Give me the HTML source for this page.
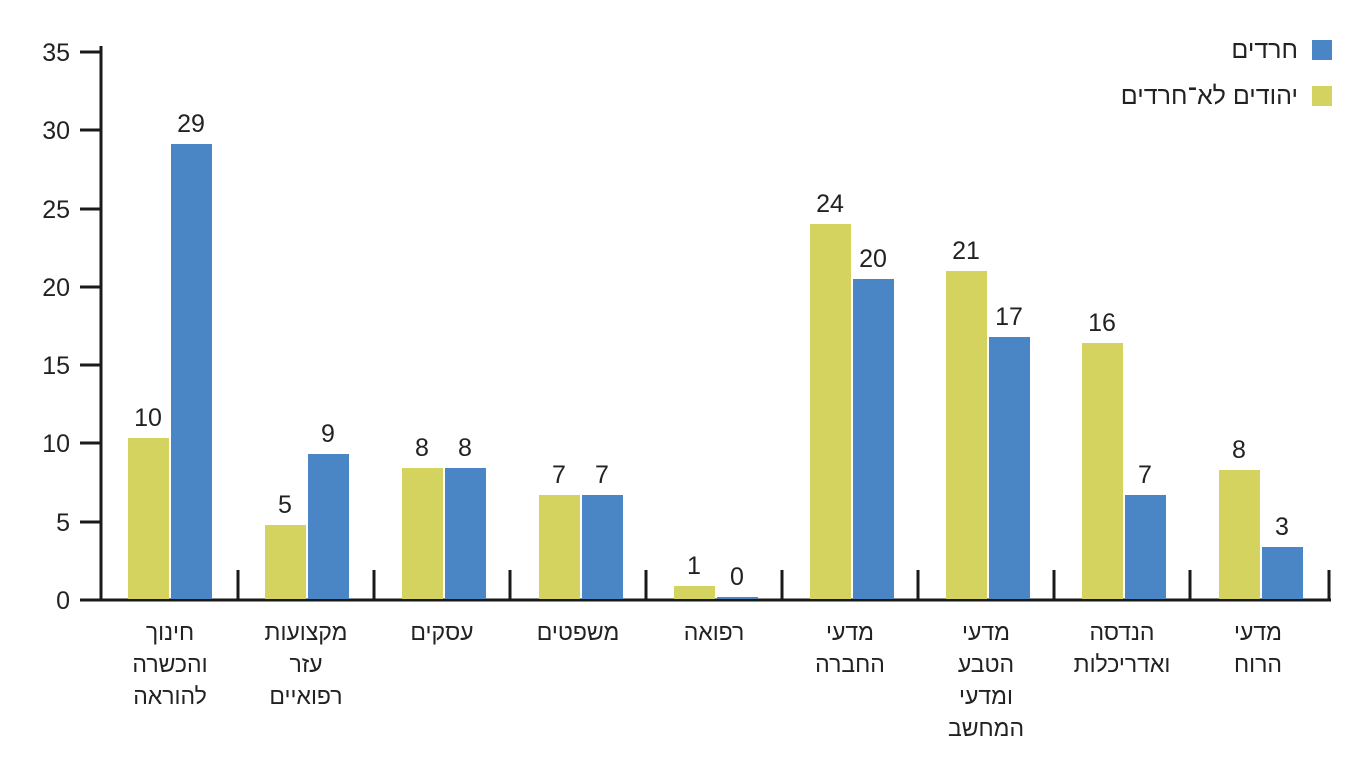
<!DOCTYPE html>
<html><head><meta charset="utf-8"><style>
body{margin:0;background:#fff}
svg{display:block}
text{font-family:"Liberation Sans","DejaVu Sans",sans-serif;fill:#222}
</style></head><body>
<svg width="1366" height="770" viewBox="0 0 1366 770">
<g stroke="#1a1a1a" stroke-width="3">
<line x1="101" y1="46" x2="101" y2="601"/>
<line x1="99" y1="600" x2="1331" y2="600"/>
<line x1="80" y1="52" x2="101" y2="52"/>
<line x1="80" y1="130" x2="101" y2="130"/>
<line x1="80" y1="209" x2="101" y2="209"/>
<line x1="80" y1="287" x2="101" y2="287"/>
<line x1="80" y1="365" x2="101" y2="365"/>
<line x1="80" y1="443" x2="101" y2="443"/>
<line x1="80" y1="522" x2="101" y2="522"/>
<line x1="80" y1="600" x2="101" y2="600"/>
<line x1="238" y1="570" x2="238" y2="600"/>
<line x1="374" y1="570" x2="374" y2="600"/>
<line x1="510" y1="570" x2="510" y2="600"/>
<line x1="646" y1="570" x2="646" y2="600"/>
<line x1="782" y1="570" x2="782" y2="600"/>
<line x1="918" y1="570" x2="918" y2="600"/>
<line x1="1054" y1="570" x2="1054" y2="600"/>
<line x1="1190" y1="570" x2="1190" y2="600"/>
<line x1="1329" y1="570" x2="1329" y2="600"/>
</g>
<g font-size="25" text-anchor="end">
<text x="70" y="61">35</text><text x="70" y="139">30</text><text x="70" y="218">25</text>
<text x="70" y="296">20</text><text x="70" y="374">15</text><text x="70" y="452">10</text>
<text x="70" y="531">5</text><text x="70" y="609">0</text>
</g>
<g fill="#d4d35f">
<rect x="128" y="438" width="41" height="161"/>
<rect x="265" y="525" width="41" height="74"/>
<rect x="402" y="468" width="41" height="131"/>
<rect x="539" y="495" width="41" height="104"/>
<rect x="674" y="586" width="41" height="13"/>
<rect x="810" y="224" width="41" height="375"/>
<rect x="946" y="271" width="41" height="328"/>
<rect x="1082" y="343" width="41" height="256"/>
<rect x="1219" y="470" width="41" height="129"/>
</g>
<g fill="#4a86c6">
<rect x="171" y="144" width="41" height="455"/>
<rect x="308" y="454" width="41" height="145"/>
<rect x="445" y="468" width="41" height="131"/>
<rect x="582" y="495" width="41" height="104"/>
<rect x="717" y="597" width="41" height="2"/>
<rect x="853" y="279" width="41" height="320"/>
<rect x="989" y="337" width="41" height="262"/>
<rect x="1125" y="495" width="41" height="104"/>
<rect x="1262" y="547" width="41" height="52"/>
</g>
<g font-size="25" text-anchor="middle">
<text x="148" y="426">10</text><text x="191" y="132">29</text>
<text x="285" y="513">5</text><text x="328" y="442">9</text>
<text x="422" y="456">8</text><text x="465" y="456">8</text>
<text x="559" y="483">7</text><text x="602" y="483">7</text>
<text x="694" y="574">1</text><text x="737" y="585">0</text>
<text x="830" y="212">24</text><text x="873" y="267">20</text>
<text x="966" y="259">21</text><text x="1009" y="325">17</text>
<text x="1102" y="331">16</text><text x="1145" y="483">7</text>
<text x="1239" y="458">8</text><text x="1282" y="535">3</text>
</g>
<g font-size="23" text-anchor="middle">
<text x="170" y="640">חינוך</text><text x="170" y="672">והכשרה</text><text x="170" y="704">להוראה</text>
<text x="306" y="640">מקצועות</text><text x="306" y="672">עזר</text><text x="306" y="704">רפואיים</text>
<text x="442" y="640">עסקים</text>
<text x="578" y="640">משפטים</text>
<text x="714" y="640">רפואה</text>
<text x="850" y="640">מדעי</text><text x="850" y="672">החברה</text>
<text x="986" y="640">מדעי</text><text x="986" y="672">הטבע</text><text x="986" y="704">ומדעי</text><text x="986" y="736">המחשב</text>
<text x="1122" y="640">הנדסה</text><text x="1122" y="672">ואדריכלות</text>
<text x="1258" y="640">מדעי</text><text x="1258" y="672">הרוח</text>
</g>
<rect x="1312" y="40" width="20" height="20" fill="#4a86c6"/>
<rect x="1312" y="86" width="20" height="20" fill="#d4d35f"/>
<g font-size="25" text-anchor="end">
<text x="1298" y="58">חרדים</text>
<text x="1298" y="104">יהודים לא־חרדים</text>
</g>
</svg>
</body></html>
